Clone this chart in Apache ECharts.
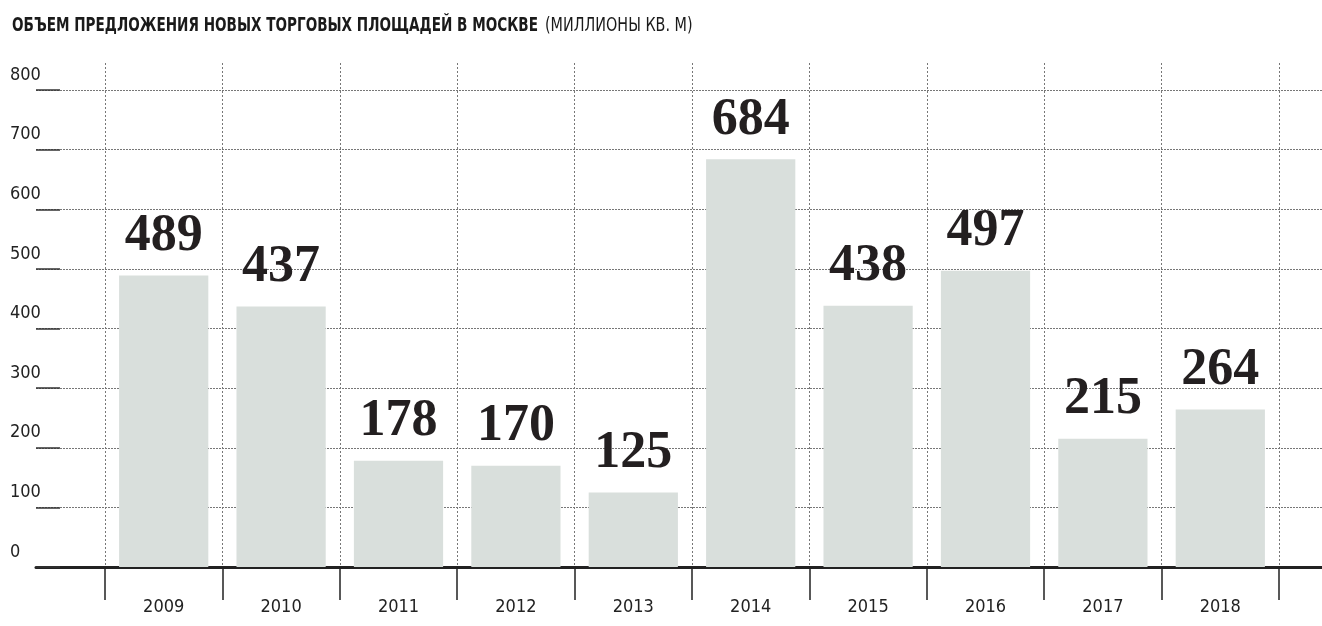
<!DOCTYPE html>
<html>
<head>
<meta charset="utf-8">
<script src="https://cdn.jsdelivr.net/npm/echarts@6/dist/echarts.min.js"></script>
<style>
  html, body { margin: 0; padding: 0; background: #fff; }
  #chart { width: 1322px; height: 626px; }
</style>
</head>
<body>
<div id="chart"></div>
<script>
var years = ['2009', '2010', '2011', '2012', '2013', '2014', '2015', '2016', '2017', '2018'];
var volumes = [489, 437, 178, 170, 125, 684, 438, 497, 215, 264];
var yTicks = [0, 100, 200, 300, 400, 500, 600, 700, 800];
var titleMain = 'ОБЪЕМ ПРЕДЛОЖЕНИЯ НОВЫХ ТОРГОВЫХ ПЛОЩАДЕЙ В МОСКВЕ';
var titleUnit = '(МИЛЛИОНЫ КВ. М)';

var narrow = '"Liberation Sans Narrow", "DejaVu Sans Condensed", sans-serif';
var yMax = yTicks[yTicks.length - 1];
var yStep = yTicks[1] - yTicks[0];

var option = {
    animation: false,
    backgroundColor: '#fff',
    // title drawn as graphic text so it can be squeezed like the condensed original
    graphic: [
        {
            type: 'text', left: 12, top: 17, scaleX: 0.795,
            style: { text: titleMain, fontFamily: narrow, fontWeight: 'bold', fontSize: 19, fill: '#1a1a1a' }
        },
        {
            type: 'text', left: 545, top: 17, scaleX: 0.84,
            style: { text: titleUnit, fontFamily: narrow, fontWeight: 'normal', fontSize: 19, fill: '#1a1a1a' }
        }
    ],
    grid: [
        // wide grid: horizontal dotted lines, y labels, baseline
        { left: 36, right: 0, top: 90, bottom: 59 },
        // bars
        { left: 105, right: 43, top: 90, bottom: 59 },
        // category boundaries (taller, start above 800 line)
        { left: 105, right: 43, top: 63, bottom: 59 }
    ],
    xAxis: [
        {
            gridIndex: 0, type: 'value', min: 0, max: 1,
            axisLine: { show: true, lineStyle: { color: '#222', width: 3 } },
            axisTick: { show: false }, axisLabel: { show: false }, splitLine: { show: false }
        },
        {
            gridIndex: 1, type: 'category', data: years,
            axisLine: { show: false }, axisTick: { show: false },
            axisLabel: { show: false }, splitLine: { show: false }
        },
        {
            gridIndex: 2, type: 'category', data: years,
            axisLine: { show: false },
            axisTick: { show: true, length: 33, lineStyle: { color: '#222', width: 1.5 } },
            axisLabel: {
                margin: 31, fontFamily: narrow, fontSize: 18, color: '#222'
            },
            splitLine: { show: true, lineStyle: { color: '#777', type: [2, 2], width: 1 } }
        }
    ],
    yAxis: [
        {
            gridIndex: 0, type: 'value', min: 0, max: yMax, interval: yStep,
            axisLine: { show: false },
            axisTick: { show: true, inside: true, length: 24, lineStyle: { color: '#333', width: 1.5 } },
            axisLabel: {
                margin: 26, align: 'left', verticalAlign: 'bottom',
                padding: [0, 0, 6, 0],
                fontFamily: narrow, fontSize: 18, color: '#222'
            },
            splitLine: { show: true, lineStyle: { color: '#777', type: [2, 1], width: 1 } }
        },
        {
            gridIndex: 1, type: 'value', min: 0, max: yMax, interval: yStep, show: false,
            splitLine: { show: false }
        },
        {
            gridIndex: 2, type: 'value', min: 0, max: 1, show: false,
            splitLine: { show: false }
        }
    ],
    series: [
        {
            type: 'bar',
            xAxisIndex: 1,
            yAxisIndex: 1,
            data: volumes,
            barWidth: '76%',
            itemStyle: { color: '#d9dfdc' },
            label: {
                show: true,
                position: 'top',
                distance: 13,
                fontFamily: '"Liberation Serif", "DejaVu Serif", serif',
                fontWeight: 'bold',
                fontSize: 52,
                color: '#231f20'
            }
        }
    ]
};

var myChart = echarts.init(document.getElementById('chart'));
myChart.setOption(option);
</script>
</body>
</html>
